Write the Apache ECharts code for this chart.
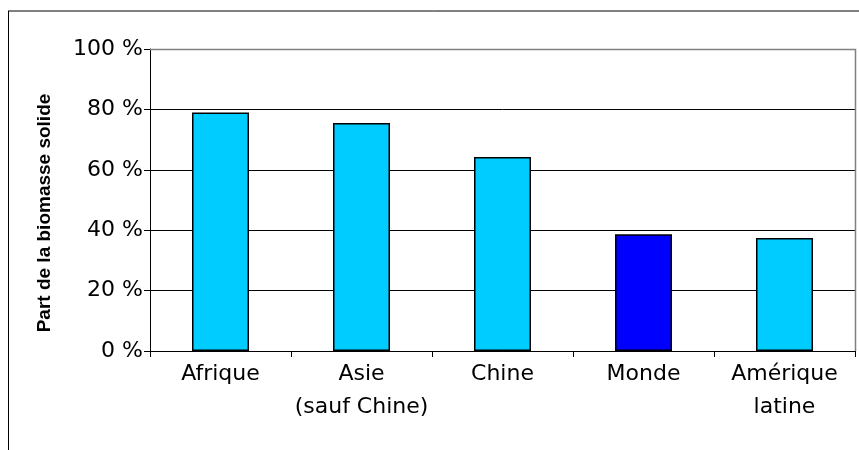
<!DOCTYPE html>
<html>
<head>
<meta charset="utf-8">
<script src="https://cdn.jsdelivr.net/npm/echarts@6/dist/echarts.min.js"></script>
<style>
  html, body { margin: 0; padding: 0; background: #fff; }
  #chart { width: 859px; height: 450px; }
</style>
</head>
<body>
<div id="chart"></div>
<script>
const categories = ['Afrique', 'Asie\n(sauf Chine)', 'Chine', 'Monde', 'Amérique\nlatine']
const shareValues = [79, 75.5, 64.2, 38.7, 37.4]
const barColors = ['#00ccff', '#00ccff', '#00ccff', '#0000ff', '#00ccff']
const yTicks = [0, 20, 40, 60, 80, 100]

const chart = echarts.init(document.getElementById('chart'))
const font = 'DejaVu Sans, Verdana, sans-serif'

chart.setOption({
  animation: false,
  grid: { left: 150, right: 4, top: 49, bottom: 99 },
  graphic: [
    // cadre extérieur (haut + gauche)
    { type: 'line', shape: { x1: 8, y1: 11, x2: 859, y2: 11 }, style: { stroke: '#000', lineWidth: 1 } },
    { type: 'line', shape: { x1: 8.5, y1: 11, x2: 8.5, y2: 450 }, style: { stroke: '#000', lineWidth: 1 } },
    // bordure grise de la zone de tracé
    { type: 'polyline', shape: { points: [[150, 49.5], [855.5, 49.5], [855.5, 351]] }, style: { stroke: '#808080', fill: null, lineWidth: 1.5 }, z: 10 },
    // titre de l'axe Y
    {
      type: 'text', x: 45, y: 213, rotation: Math.PI / 2,
      style: {
        text: 'Part de la biomasse solide', fill: '#000',
        font: 'bold 19px Liberation Sans, Arial, sans-serif',
        textAlign: 'center', textVerticalAlign: 'middle'
      }
    }
  ],
  xAxis: {
    type: 'category',
    data: categories,
    axisLine: { lineStyle: { color: '#000', width: 1 } },
    axisTick: { show: true, length: 6, lineStyle: { color: '#000' } },
    axisLabel: { color: '#000', fontFamily: font, fontSize: 22, lineHeight: 33, margin: 7, interval: 0, hideOverlap: false }
  },
  yAxis: {
    type: 'value',
    min: 0,
    max: 100,
    interval: 20,
    axisLine: { show: true, lineStyle: { color: '#000', width: 1 } },
    axisTick: { show: true, length: 6, lineStyle: { color: '#000' } },
    axisLabel: {
      color: '#000', fontFamily: font, fontSize: 22, margin: 7,
      formatter: v => (yTicks.includes(v) ? v + ' %' : '')
    },
    splitLine: { lineStyle: { color: '#000', width: 1 } }
  },
  series: [{
    type: 'bar',
    data: shareValues.map((v, i) => ({ value: v, itemStyle: { color: barColors[i] } })),
    barWidth: 57,
    itemStyle: { borderColor: '#000', borderWidth: 1.5 }
  }]
})
</script>
</body>
</html>
